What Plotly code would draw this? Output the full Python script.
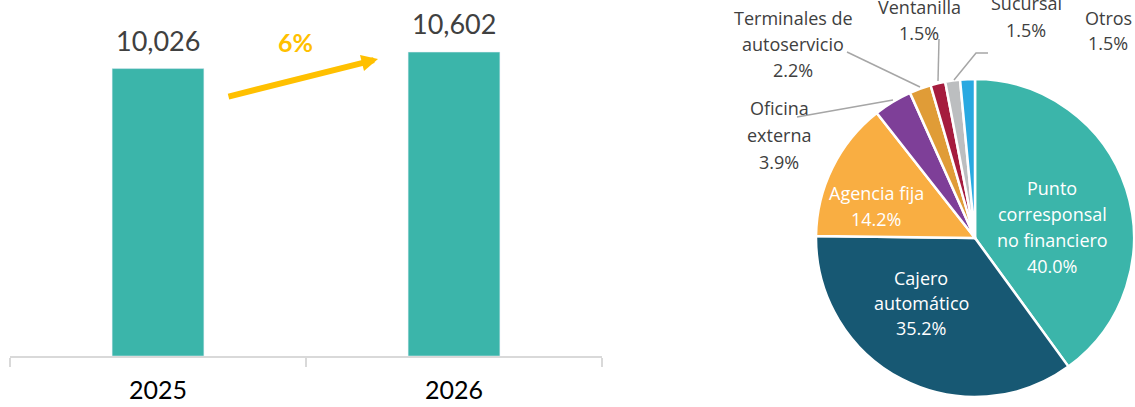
import plotly.graph_objects as go

# ---------------- data ----------------
years = ["2025", "2026"]
totals = [10026, 10602]
growth_text = "6%"

channels = [
    "Punto<br>corresponsal<br>no financiero",
    "Cajero<br>automático",
    "Agencia fija",
    "Oficina<br>externa",
    "Terminales de<br>autoservicio",
    "Ventanilla",
    "Sucursal",
    "Otros",
]
shares = [40.0, 35.2, 14.2, 3.9, 2.2, 1.5, 1.5, 1.5]

# ---------------- styles ----------------
W, H = 1135, 407
BAR_COLOR = "#3bb5aa"
slice_colors = ["#3bb5aa", "#175873", "#f9ae42", "#7e3f98",
                "#e09c37", "#a51c3e", "#bcbec0", "#29a9e1"]
inside = [True, True, True, False, False, False, False, False]
# label anchor (center x, first-line y, line spacing) in pixels
label_pos = [
    (1052, 188, 26), (921, 278, 25), (876, 193, 26), (779, 108, 27),
    (793, 18, 26), (919, 7, 26), (1026, 3, 27), (1108, 18, 25),
]
leaders = [
    None, None, None,
    [(797, 117), (893, 100)],
    [(847, 52), (920, 87)],
    [(939, 39), (938, 81)],
    [(988, 53), (976, 53), (954, 80)],
    None,
]


def px(x):
    return x / W


def py(y):
    return 1 - y / H


fig = go.Figure()

fig.add_trace(go.Bar(
    x=years, y=totals, marker_color=BAR_COLOR, width=0.31,
    hoverinfo="skip", showlegend=False,
))

fig.add_trace(go.Pie(
    labels=[c.replace("<br>", " ") for c in channels], values=shares,
    sort=False, direction="clockwise", rotation=0,
    marker=dict(colors=slice_colors, line=dict(color="white", width=2.5)),
    textinfo="none", textposition="none", hoverinfo="label+percent",
    showlegend=False,
    domain=dict(x=[px(816), px(1134)], y=[py(397), py(79)]),
))

annotations = []
# value labels above bars
for i, v in enumerate(totals):
    annotations.append(dict(
        x=i, y=v, xref="x", yref="y", text=f"{v:,}", showarrow=False,
        yanchor="bottom", yshift=10,
        font=dict(family="Lato", size=27, color="#404040"),
    ))

# growth arrow + text
annotations.append(dict(
    x=px(378), y=py(59), xref="paper", yref="paper",
    ax=227 - 378, ay=97 - 59, axref="pixel", ayref="pixel",
    text="", showarrow=True, arrowhead=2, arrowsize=0.55, arrowwidth=6,
    arrowcolor="#ffc000",
))
annotations.append(dict(
    x=px(295), y=py(42), xref="paper", yref="paper", text=f"<b>{growth_text}</b>",
    showarrow=False, xanchor="center", yanchor="middle",
    font=dict(family="Lato", size=25, color="#ffc000"),
))

# pie labels
for name, val, ins, (cx, cy, sp) in zip(channels, shares, inside, label_pos):
    lines = name.split("<br>") + [f"{val:.1f}%"]
    col = "white" if ins else "#404040"
    for i, ln in enumerate(lines):
        annotations.append(dict(
            x=px(cx), y=py(cy + i * sp), xref="paper", yref="paper",
            text=ln, showarrow=False, xanchor="center", yanchor="middle",
            font=dict(family="Open Sans", size=18, color=col),
        ))

shapes = []
for pts in leaders:
    if not pts:
        continue
    path = "M " + " L ".join(f"{px(x)},{py(y)}" for x, y in pts)
    shapes.append(dict(type="path", xref="paper", yref="paper", path=path,
                       line=dict(color="#a6a6a6", width=1.5)))

fig.update_layout(
    width=W, height=H,
    margin=dict(l=0, r=0, t=0, b=0),
    paper_bgcolor="white", plot_bgcolor="white",
    xaxis=dict(
        domain=[px(10), px(602)], type="category", range=[-0.5, 1.5],
        showline=True, linecolor="#d9d9d9", linewidth=2,
        ticks="outside", tickson="boundaries", ticklen=9,
        tickcolor="#d9d9d9", tickwidth=2, tickangle=0,
        ticklabelstandoff=11,
        tickfont=dict(family="Lato", size=25, color="#000000"),
        showgrid=False, zeroline=False,
    ),
    yaxis=dict(
        domain=[py(356), py(12)], range=[0, 12000], visible=False,
        showgrid=False, zeroline=False,
    ),
    annotations=annotations,
    shapes=shapes,
)

fig.write_html("out.html")
